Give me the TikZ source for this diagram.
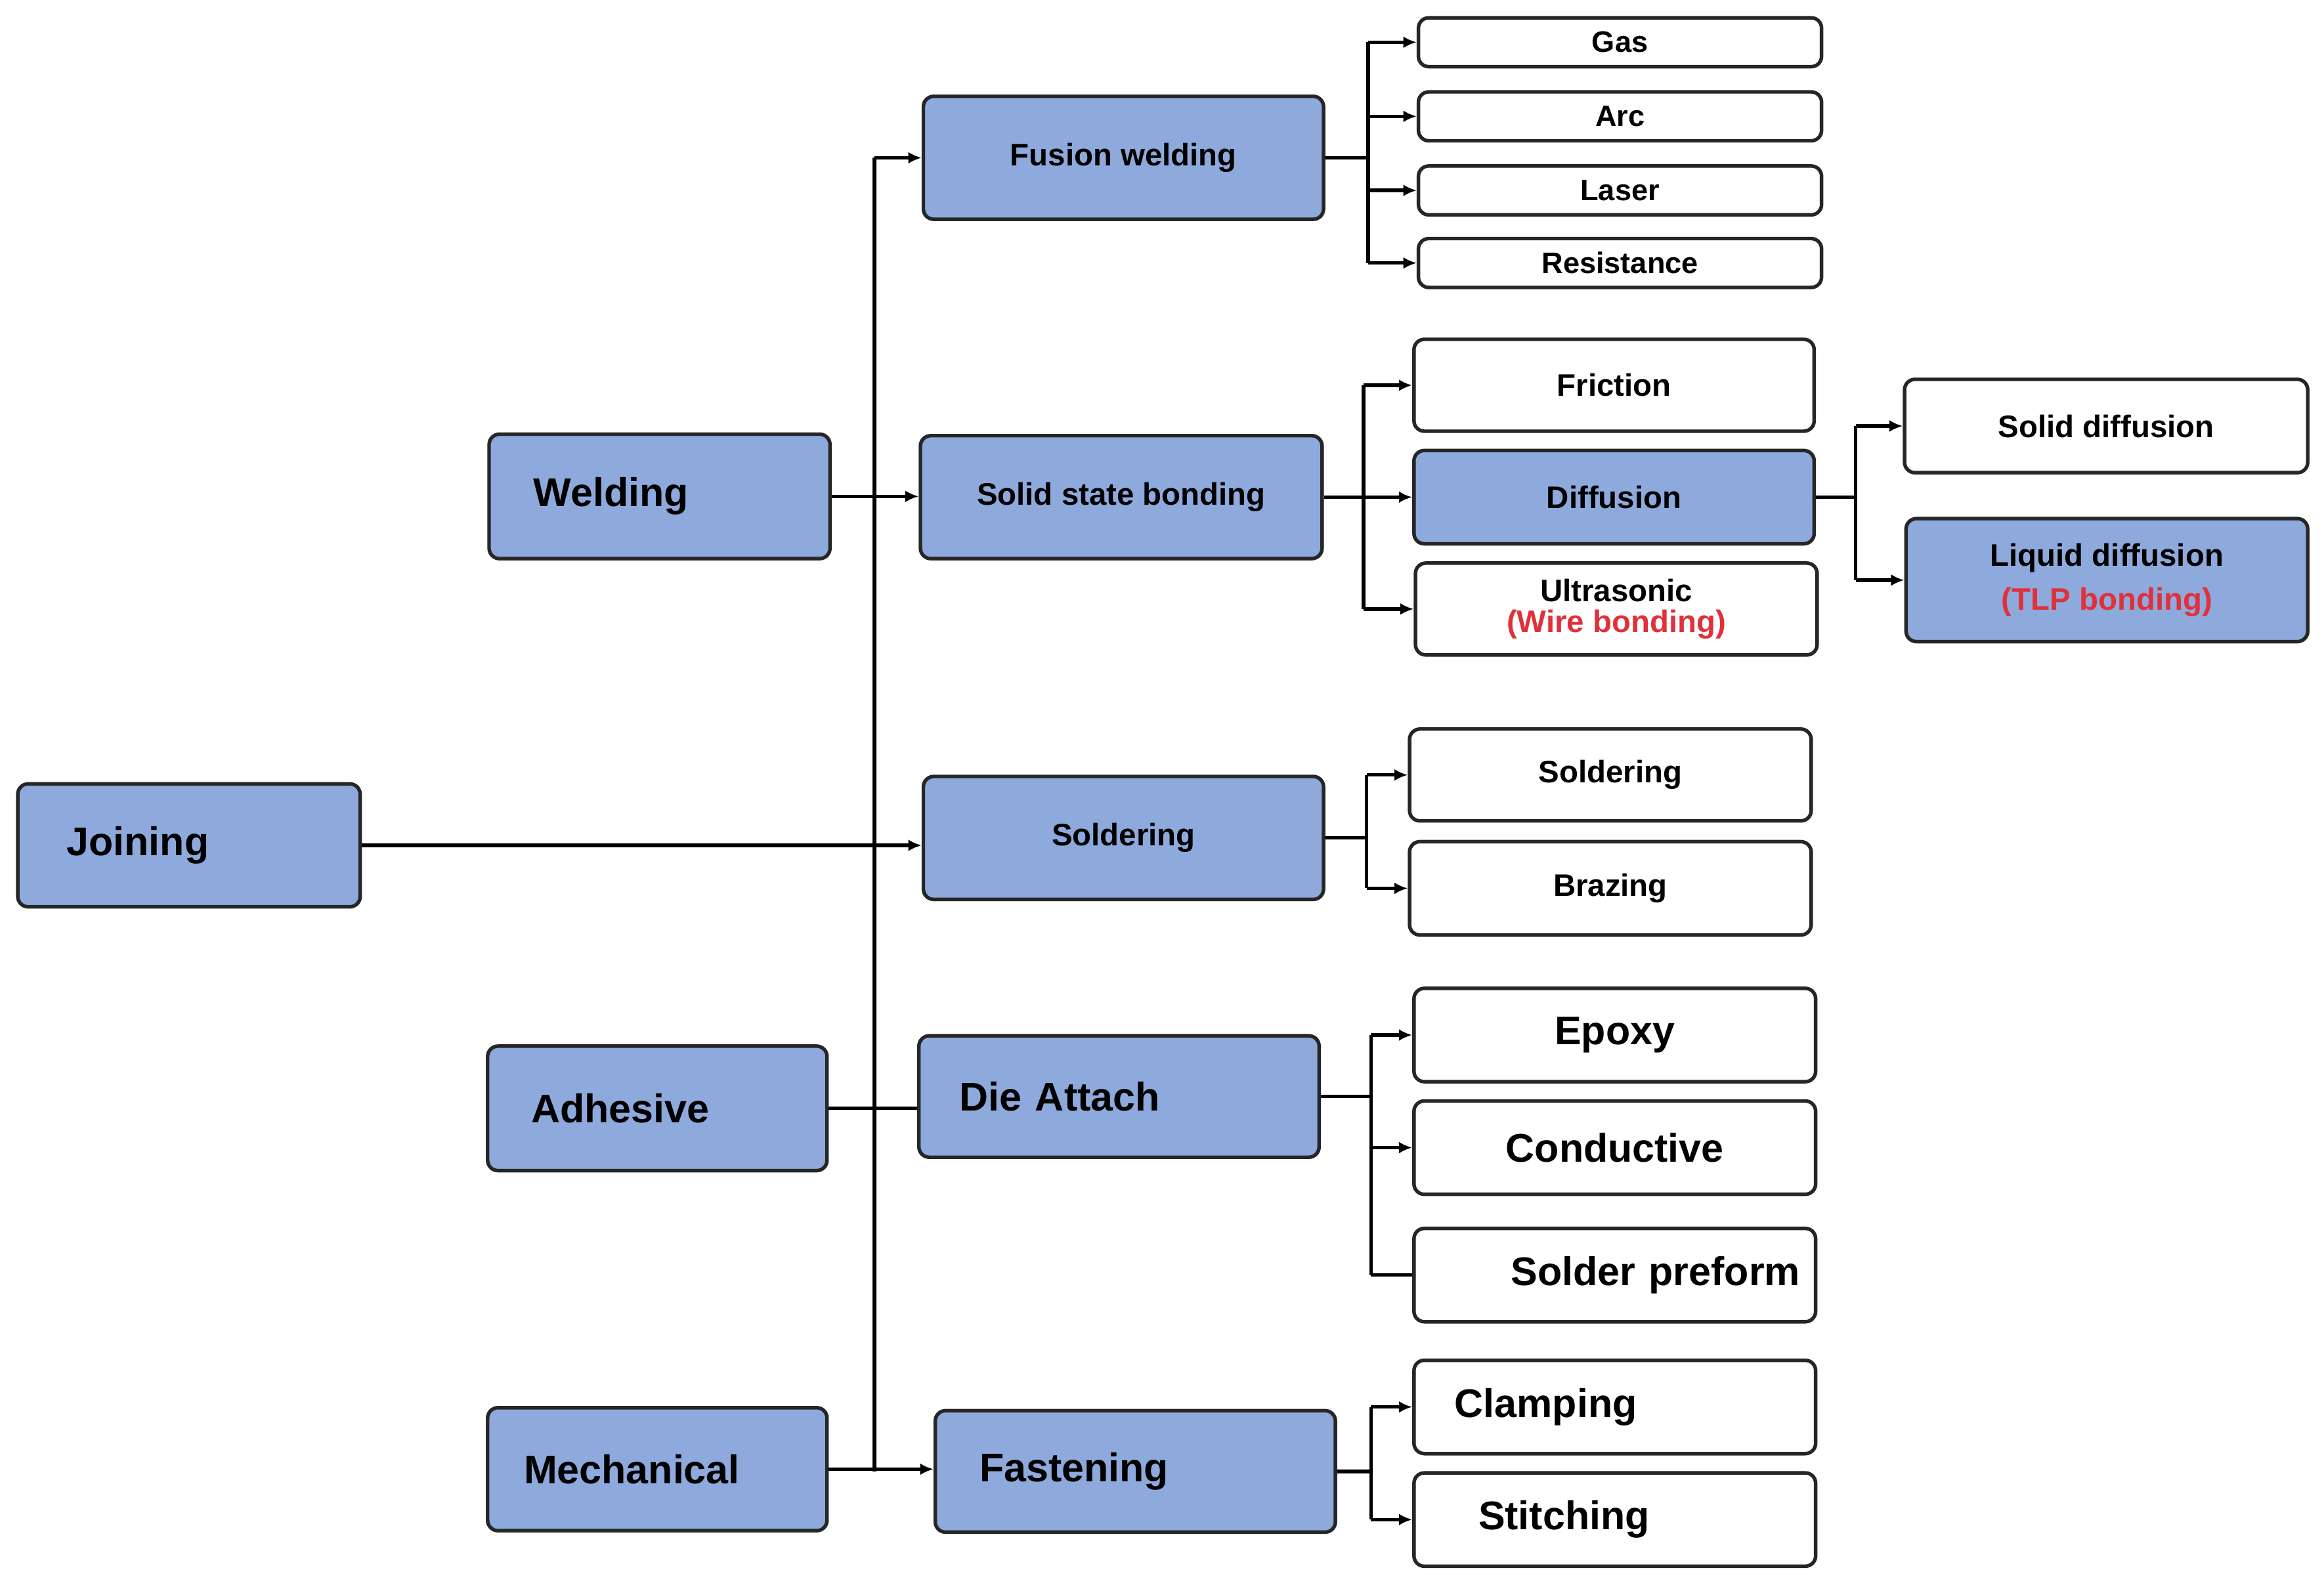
\documentclass[tikz,border=0pt]{standalone}
\usepackage{fontspec}
\setmainfont{Liberation Sans}[BoldFont={Liberation Sans Bold}]
\usetikzlibrary{arrows.meta}
\definecolor{bl}{HTML}{8EA9DB}
\definecolor{rd}{HTML}{E0303A}
\tikzset{
 bx/.style={draw=black!85,line width=2.4pt,rounded corners=7pt,inner sep=0pt},
 blue/.style={bx,fill=bl},
 white/.style={bx,fill=white},
 big/.style={font=\bfseries\fontsize{27}{30}\selectfont},
 mid/.style={font=\bfseries\fontsize{21}{24}\selectfont},
 sml/.style={font=\bfseries\fontsize{20}{22}\selectfont},
 ln/.style={line width=2.4pt,black},
 arr/.style={ln,-{Latex[length=9pt,width=8pt]}}
}
\newcommand\bx[7]{\node[#6,minimum width={(#4-#2)*1pt},minimum height={(#5-#3)*1pt}] (#1) at ({(#2+#4)/2},{-(#3+#5)/2}) {#7};}
\begin{document}
\begin{tikzpicture}[x=1pt,y=1pt]
\useasboundingbox[fill=white] (0,0) rectangle (1568,-1071);
\bx{join}{12}{529}{243}{612}{blue,big,text width=165pt,align=left}{Joining}
\bx{weld}{330}{293}{560}{377}{blue,big,text width=170pt,align=left}{Welding}
\bx{adh}{329}{706}{558}{790}{blue,big,text width=170pt,align=left}{Adhesive}
\bx{mech}{329}{950}{558}{1033}{blue,big,text width=180pt,align=left}{Mechanical}
\bx{fus}{623}{65}{893}{148}{blue,mid}{Fusion welding}
\bx{ssb}{621}{294}{892}{377}{blue,mid}{Solid state bonding}
\bx{sold}{623}{524}{893}{607}{blue,mid}{Soldering}
\bx{die}{620}{699}{890}{781}{blue,big,text width=215pt,align=left}{Die Attach}
\bx{fast}{631}{952}{901}{1034}{blue,big,text width=210pt,align=left}{Fastening}
\bx{gas}{957}{12}{1229}{45}{white,sml}{Gas}
\bx{arc}{957}{62}{1229}{95}{white,sml}{Arc}
\bx{las}{957}{112}{1229}{145}{white,sml}{Laser}
\bx{res}{957}{161}{1229}{194}{white,sml}{Resistance}
\bx{fric}{954}{229}{1224}{291}{white,mid}{Friction}
\bx{diff}{954}{304}{1224}{367}{blue,mid}{Diffusion}
\bx{ultra}{955}{380}{1226}{442}{white,mid,align=center,font=\bfseries\fontsize{21}{21}\selectfont}{Ultrasonic\\\textcolor{rd}{(Wire bonding)}}
\bx{sdif}{1285}{256}{1557}{319}{white,mid}{Solid diffusion}
\bx{ldif}{1286}{350}{1557}{433}{blue,mid,align=center,font=\bfseries\fontsize{21}{30}\selectfont}{Liquid diffusion\\\textcolor{rd}{(TLP bonding)}}
\bx{sold2}{951}{492}{1222}{554}{white,mid}{Soldering}
\bx{braz}{951}{568}{1222}{631}{white,mid}{Brazing}
\bx{epo}{954}{667}{1225}{730}{white,big,text width=240pt,align=center}{Epoxy\hspace*{26pt}}
\bx{cond}{954}{743}{1225}{806}{white,big,text width=240pt,align=center}{Conductive\hspace*{14pt}}
\bx{spre}{954}{829}{1225}{892}{white,big,text width=250pt,align=right}{Solder preform}
\bx{clam}{954}{918}{1225}{981}{white,big,text width=240pt,align=left}{\hspace*{12pt}Clamping}
\bx{stit}{954}{994}{1225}{1057}{white,big,text width=240pt,align=left}{\hspace*{28pt}Stitching}
% trunk
\coordinate (T) at (590,0);
\draw[ln] (T|-fus.west) -- (T|-fast.west);
\draw[arr] (T|-fus.west) -- (fus.west);
\draw[arr] (weld.east) -- (ssb.west|-weld.east);
\draw[arr] (join.east) -- (sold.west|-join.east);
\draw[ln] (adh.east) -- (die.west|-adh.east);
\draw[arr] (mech.east) -- (fast.west|-mech.east);
% fusion
\coordinate (F) at (923,0);
\draw[ln] (fus.east) -- (F|-fus.east);
\draw[ln] (F|-gas.west) -- (F|-res.west);
\foreach \n in {gas,arc,las,res} \draw[arr] (F|-\n.west) -- (\n.west);
% solid state
\coordinate (S) at (920,0);
\draw[ln] (ssb.east) -- (S|-ssb.east);
\draw[ln] (S|-fric.west) -- (S|-ultra.west);
\foreach \n in {fric,diff,ultra} \draw[arr] (S|-\n.west) -- (\n.west);
% diffusion
\coordinate (D) at (1252,0);
\draw[ln] (diff.east) -- (D|-diff.east);
\draw[ln] (D|-sdif.west) -- (D|-ldif.west);
\foreach \n in {sdif,ldif} \draw[arr] (D|-\n.west) -- (\n.west);
% soldering
\coordinate (L) at (922,0);
\draw[ln] (sold.east) -- (L|-sold.east);
\draw[ln] (L|-sold2.west) -- (L|-braz.west);
\foreach \n in {sold2,braz} \draw[arr] (L|-\n.west) -- (\n.west);
% die attach
\coordinate (A) at (925,0);
\draw[ln] (die.east) -- (A|-die.east);
\draw[ln] (A|-epo.west) -- (A|-spre.west);
\foreach \n in {epo,cond} \draw[arr] (A|-\n.west) -- (\n.west);
\draw[ln] (A|-spre.west) -- (spre.west);
% fastening
\coordinate (B) at (925,0);
\draw[ln] (fast.east) -- (B|-fast.east);
\draw[ln] (B|-clam.west) -- (B|-stit.west);
\foreach \n in {clam,stit} \draw[arr] (B|-\n.west) -- (\n.west);
\end{tikzpicture}
\end{document}
